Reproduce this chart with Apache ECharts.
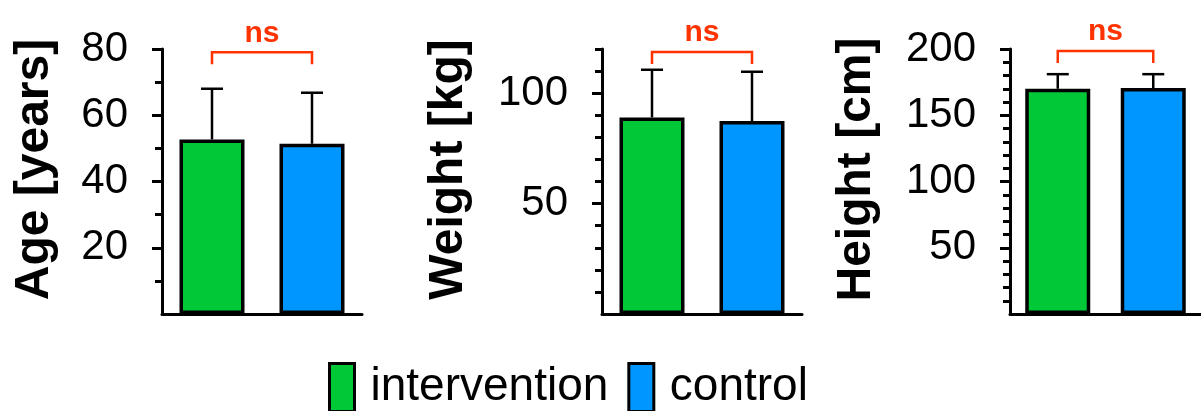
<!DOCTYPE html>
<html><head><meta charset="utf-8">
<script src="https://cdn.jsdelivr.net/npm/echarts@6/dist/echarts.min.js"></script>
<style>html,body{margin:0;padding:0;background:#fff}#c{width:1201px;height:411px}</style>
</head><body><div id="c"></div>
<script>
const groups = ['intervention', 'control'];
const ageMeans = [52.7, 51.4];
const ageUpper = [68, 66.8];
const weightMeans = [89, 87.4];
const weightUpper = [110.6, 109.7];
const heightMeans = [170, 170.5];
const heightUpper = [181, 181];
const panelTitles = ['Age [years]', 'Weight [kg]', 'Height [cm]'];
const ageTickLabels = [20, 40, 60, 80];
const weightTickLabels = [50, 100];
const heightTickLabels = [50, 100, 150, 200];
const sigLabels = ['ns', 'ns', 'ns'];
const bracketLevels = [79, 118.6, 198.5];

const FONT = '"Liberation Sans", Arial, sans-serif';
const GREEN = '#00C837', BLUE = '#0096FF', RED = '#FF3300';
const colors = [GREEN, BLUE];

const panels = [
  {means: ageMeans, upper: ageUpper, labels: ageTickLabels, max: 80, minorStep: 10, left: 162, titleX: 34.5},
  {means: weightMeans, upper: weightUpper, labels: weightTickLabels, max: 120, minorStep: 10, left: 602, titleX: 448.5},
  {means: heightMeans, upper: heightUpper, labels: heightTickLabels, max: 200, minorStep: 10, left: 1010, titleX: 857}
];

const grids = [], xAxes = [], yAxes = [], series = [], graphics = [];
panels.forEach((p, i) => {
  const minorVals = [];
  for (let v = p.minorStep; v <= p.max; v += p.minorStep) {
    if (p.labels.indexOf(v) < 0) minorVals.push(v);
  }
  grids.push({left: p.left, top: 49, width: 200, height: 265});
  xAxes.push({type: 'category', gridIndex: i, data: groups,
    axisLine: {lineStyle: {color: '#000', width: 3}},
    axisTick: {show: false}, axisLabel: {show: false}, splitLine: {show: false}});
  const yi = yAxes.length;
  yAxes.push({type: 'value', gridIndex: i, min: 0, max: p.max,
    axisLine: {show: true, lineStyle: {color: '#000', width: 3}},
    axisTick: {show: true, length: 10, customValues: p.labels, lineStyle: {color: '#000', width: 3}},
    splitLine: {show: false},
    axisLabel: {margin: 34, fontSize: 42, fontFamily: FONT, color: '#000', customValues: p.labels}});
  yAxes.push({type: 'value', gridIndex: i, min: 0, max: p.max, position: 'left',
    axisLine: {show: false},
    axisTick: {show: true, length: 7, customValues: minorVals, lineStyle: {color: '#000', width: 3}},
    splitLine: {show: false}, axisLabel: {show: false}});
  groups.forEach((g, k) => {
    series.push({type: 'bar', name: g, xAxisIndex: i, yAxisIndex: yi,
      data: groups.map((_, j) => (j === k ? p.means[j] : '-')),
      barWidth: 65, barGap: '-100%',
      itemStyle: {color: colors[k], borderColor: '#000', borderWidth: 3.5},
      emphasis: {disabled: true}, z: 2});
  });
  series.push({type: 'custom', xAxisIndex: i, yAxisIndex: yi, z: 3,
    data: groups.map((_, j) => [j, p.means[j], p.upper[j]]),
    renderItem: (params, api) => {
      const b = api.coord([api.value(0), api.value(1)]);
      const t = api.coord([api.value(0), api.value(2)]);
      const st = {stroke: '#000', lineWidth: 2.5};
      return {type: 'group', children: [
        {type: 'line', shape: {x1: b[0], y1: b[1], x2: t[0], y2: t[1]}, style: st},
        {type: 'line', shape: {x1: t[0] - 11, y1: t[1], x2: t[0] + 11, y2: t[1]}, style: st}
      ]};
    }});
  series.push({type: 'custom', xAxisIndex: i, yAxisIndex: yi, z: 3, clip: false,
    data: [[0, 1, bracketLevels[i]]],
    renderItem: (params, api) => {
      const a = api.coord([api.value(0), api.value(2)]);
      const c = api.coord([api.value(1), api.value(2)]);
      return {type: 'group', children: [
        {type: 'polyline', shape: {points: [[a[0], a[1] + 12], [a[0], a[1]], [c[0], c[1]], [c[0], c[1] + 12]]},
          style: {stroke: RED, lineWidth: 2.5, fill: null}},
        {type: 'text', x: (a[0] + c[0]) / 2, y: a[1] - 19,
          style: {text: sigLabels[i], fill: RED, font: 'bold 30px ' + FONT, align: 'center', verticalAlign: 'middle'}}
      ]};
    }});
  graphics.push({type: 'text', x: p.titleX, y: 169.5, rotation: Math.PI / 2,
    style: {text: panelTitles[i], fill: '#000', font: 'bold 48px ' + FONT, align: 'center', verticalAlign: 'middle'}});
});

const chart = echarts.init(document.getElementById('c'), null, {renderer: 'canvas'});
chart.setOption({
  animation: false,
  backgroundColor: '#fff',
  grid: grids, xAxis: xAxes, yAxis: yAxes, series: series, graphic: graphics,
  legend: {data: groups, left: 323, top: 357, itemWidth: 25, itemHeight: 48, itemGap: 19,
    icon: 'rect', selectedMode: false,
    itemStyle: {borderColor: '#000', borderWidth: 3},
    textStyle: {fontSize: 46, fontFamily: FONT, color: '#000', padding: [0, 0, 0, 11]}}
});
</script></body></html>
